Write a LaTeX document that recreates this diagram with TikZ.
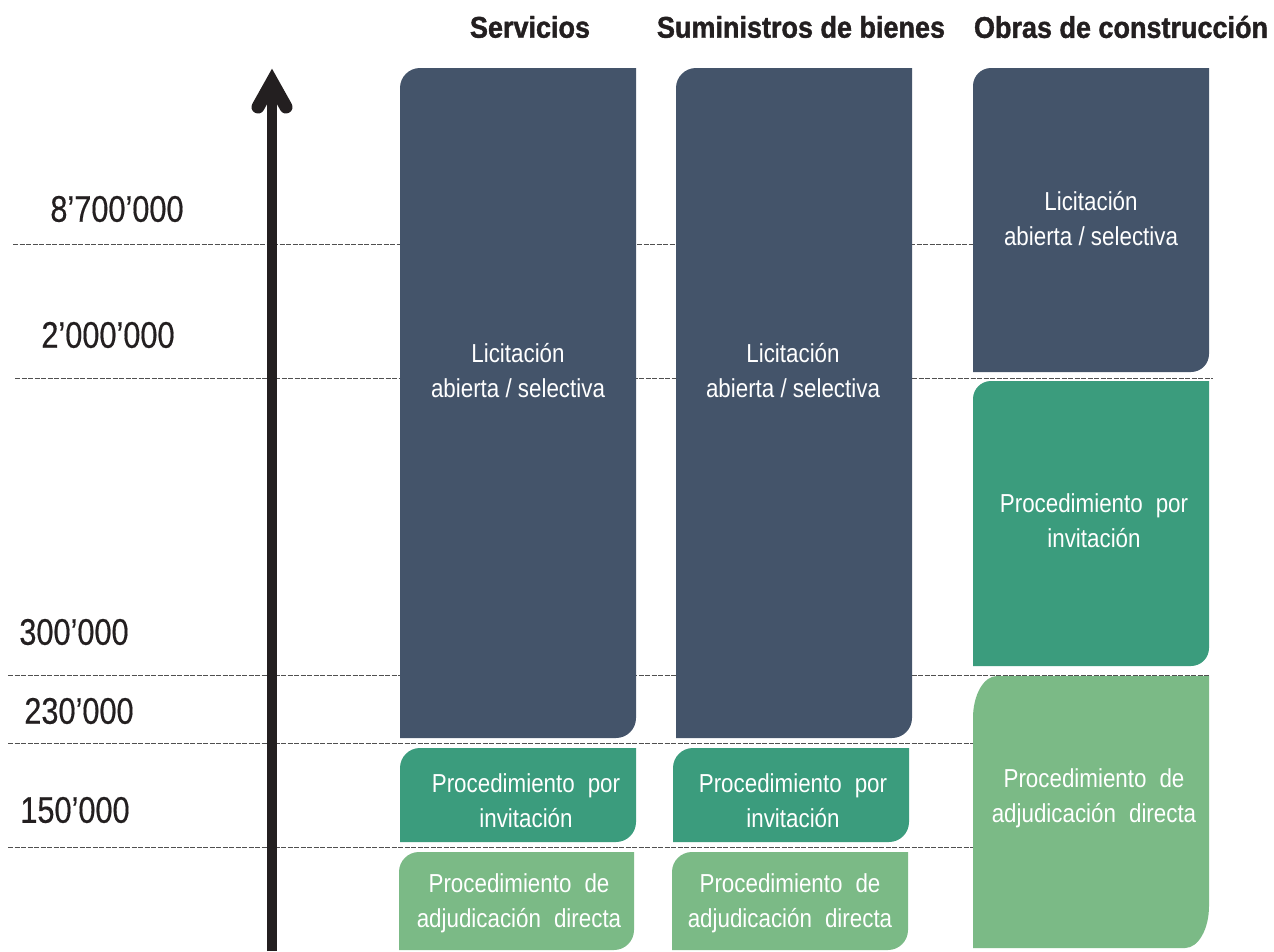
\documentclass[tikz,border=0pt]{standalone}
\usepackage{fontspec}
\setmainfont{Liberation Sans}
\newfontfamily\hdrfont{Liberation Sans}[FakeStretch=0.9,FakeBold=1.2]
\newfontfamily\numfont{Liberation Sans}[FakeStretch=0.83,FakeBold=0.4]
\newfontfamily\boxfont{Liberation Sans}[FakeStretch=0.86]
\usetikzlibrary{calc}
\definecolor{slate}{HTML}{44546A}
\definecolor{tealc}{HTML}{3B9C7D}
\definecolor{lgreen}{HTML}{7BBA86}
\definecolor{axisc}{HTML}{231F20}
\definecolor{dashc}{HTML}{505050}
\newcommand\wsp{\hspace{13pt}}
% x1 ytop x2 ybot rx ry colour
\newcommand\rbox[7]{%
  \fill[#7] (#1,-#4) -- (#1,-#2-#6)
    arc[start angle=180,end angle=90,x radius=#5,y radius=#6]
    -- (#3,-#2) -- (#3,-#4+#6)
    arc[start angle=0,end angle=-90,x radius=#5,y radius=#6] -- cycle;}
\tikzset{
  guide/.style={draw=dashc, line width=1pt, dash pattern=on 5pt off 1.5pt},
  hdr/.style={inner sep=0pt, font=\hdrfont\bfseries\fontsize{30}{36}\selectfont, text=axisc},
  num/.style={inner sep=0pt, font=\numfont\fontsize{37}{44}\selectfont, text=axisc},
  boxtxt/.style={inner sep=0pt, align=center, text=white, font=\boxfont\fontsize{26}{35}\selectfont},
  axisline/.style={draw=axisc, line width=10pt},
  axishead/.style={draw=axisc, line width=13pt, line cap=round, line join=miter}
}
\begin{document}
\begin{tikzpicture}[x=1pt,y=1pt]
\useasboundingbox (0,0) rectangle (1274,-951);
\fill[white] (0,0) rectangle (1274,-951);

% guide lines
\draw[guide] (13,-244) -- (1200,-244);
\draw[guide] (15,-378) -- (1213,-378);
\draw[guide] (8,-675) -- (1209,-675);
\draw[guide] (8,-743) -- (980,-743);
\draw[guide] (8,-847) -- (980,-847);

% headers
\node[hdr] (h1) at (530,-27) {Servicios};
\node[hdr] (h2) at (801,-27) {Suministros de bienes};
\node[hdr] (h3) at (1121,-27) {Obras de construcción};

% values
\node[num] (v1) at (117,-209) {8’700’000};
\node[num] (v2) at (108,-335) {2’000’000};
\node[num] (v3) at (74,-632) {300’000};
\node[num] (v4) at (79,-711) {230’000};
\node[num] (v5) at (75,-810) {150’000};

% axis
\coordinate (axbot) at (272,-951);
\coordinate (axtop) at (272,-82);
\draw[axisline] (axbot) -- (axtop);
\draw[axishead] ($(axtop)+(-14,-25)$) -- (axtop) -- ($(axtop)+(14,-25)$);

% Servicios
\rbox{400}{68}{636}{738}{20}{20}{slate}
\rbox{400}{748}{636}{842}{20}{20}{tealc}
\rbox{399}{852}{634}{950}{20}{20}{lgreen}
\node[boxtxt] (s1) at (518,-371) {Licitación\\abierta / selectiva};
\node[boxtxt] (s2) at (526,-801) {Procedimiento\wsp por\\invitación};
\node[boxtxt] (s3) at (519,-903) {Procedimiento\wsp de\\adjudicación\wsp directa};

% Suministros
\rbox{676}{68}{912}{738}{20}{20}{slate}
\rbox{673}{748}{909}{842}{20}{20}{tealc}
\rbox{672}{852}{908}{950}{20}{20}{lgreen}
\node[boxtxt] (m1) at (793,-371) {Licitación\\abierta / selectiva};
\node[boxtxt] (m2) at (793,-801) {Procedimiento\wsp por\\invitación};
\node[boxtxt] (m3) at (790,-903) {Procedimiento\wsp de\\adjudicación\wsp directa};

% Obras
\rbox{973}{68}{1209}{372}{18}{18}{slate}
\rbox{973}{381}{1209}{666}{18}{18}{tealc}
\rbox{973}{676}{1209}{948}{24}{42}{lgreen}
\node[boxtxt] (o1) at (1091,-219) {Licitación\\abierta / selectiva};
\node[boxtxt] (o2) at (1094,-521) {Procedimiento\wsp por\\invitación};
\node[boxtxt] (o3) at (1094,-798) {Procedimiento\wsp de\\adjudicación\wsp directa};
\end{tikzpicture}
\end{document}
